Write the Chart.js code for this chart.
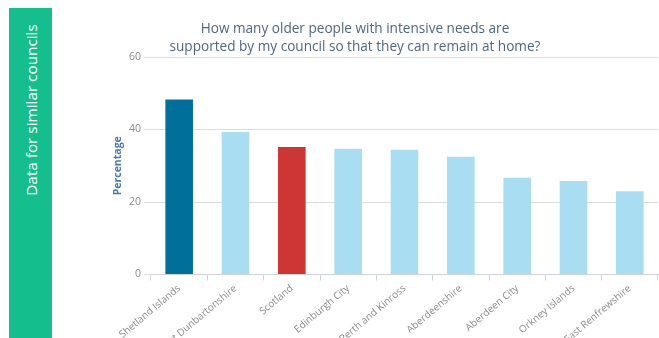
<!DOCTYPE html>
<html>
<head>
<meta charset="utf-8">
<script src="https://cdn.jsdelivr.net/npm/chart.js@4/dist/chart.umd.min.js"></script>
<style>
  html, body { margin: 0; padding: 0; background: #fff; width: 659px; height: 338px; overflow: hidden; }
  #panel { position: absolute; left: 9px; top: 8px; width: 43px; height: 330px; background: #14bf8d; }
  #panel span { position: absolute; left: 21.5px; top: 102px; transform: translate(-50%, -50%) rotate(-90deg);
    white-space: nowrap; color: #fff; font-family: "Open Sans", sans-serif; font-size: 15.3px; line-height: 20px; }
  #wrap { position: absolute; left: 52px; top: 0; width: 607px; height: 338px; }
</style>
</head>
<body>
<div id="panel"><span>Data for similar councils</span></div>
<div id="wrap"><canvas id="c" width="607" height="338"></canvas></div>
<script>
const titleLines = ["How many older people with intensive needs are", "supported by my council so that they can remain at home?"];
const yAxisTitle = "Percentage";
const councils = ["Shetland Islands", "East Dunbartonshire", "Scotland", "Edinburgh City", "Perth and Kinross", "Aberdeenshire", "Aberdeen City", "Orkney Islands", "East Renfrewshire"];
const percentages = [48.3, 39.3, 35.2, 34.7, 34.4, 32.5, 26.7, 25.8, 23.0];
const yTicks = [0, 20, 40, 60];
const selectedCouncil = "Shetland Islands";
const nationalLabel = "Scotland";

const FONT = '"Open Sans", sans-serif';

new Chart(document.getElementById('c'), {
  type: 'bar',
  data: {
    labels: councils,
    datasets: [{
      data: percentages,
      backgroundColor: ctx => {
        const l = councils[ctx.dataIndex];
        if (l === nationalLabel) return '#cd3634';
        if (l === selectedCouncil) return '#00709a';
        return '#a8ddf2';
      },
      borderWidth: 0,
      categoryPercentage: 1,
      barPercentage: 0.49
    }]
  },
  options: {
    responsive: false,
    animation: false,
    layout: { padding: { left: 0, right: 1, top: 0, bottom: 0 } },
    plugins: {
      legend: { display: false },
      tooltip: { enabled: false },
      title: {
        display: true,
        text: titleLines,
        color: '#4f6680',
        font: { family: FONT, size: 13.6, weight: 'normal', lineHeight: '18px' },
        padding: { top: 20, bottom: 1 }
      }
    },
    scales: {
      x: {
        border: { display: true, color: '#cfd4d8', width: 1 },
        grid: { display: true, drawOnChartArea: false, drawTicks: true, tickLength: 6, color: '#cfd4d8', offset: true },
        ticks: {
          color: '#8a8a8a', font: { family: FONT, size: 10 },
          minRotation: 40, maxRotation: 40, autoSkip: false, padding: 2
        },
        afterFit: s => { s.height = 63.5; }
      },
      y: {
        min: 0, max: 60,
        afterBuildTicks: s => { s.ticks = yTicks.map(v => ({ value: v })); },
        border: { display: false },
        grid: { color: '#dcdcdc', drawTicks: true, tickLength: 7, lineWidth: 1 },
        ticks: { color: '#8a8a8a', font: { family: FONT, size: 10.5 }, padding: 3 },
        title: {
          display: true, text: yAxisTitle, color: '#4a78aa',
          font: { family: FONT, size: 10.5, weight: 'bold' }, padding: { top: 60, bottom: 0 }
        },
        afterFit: s => { s.width = 99; }
      }
    }
  }
});
</script>
</body>
</html>
